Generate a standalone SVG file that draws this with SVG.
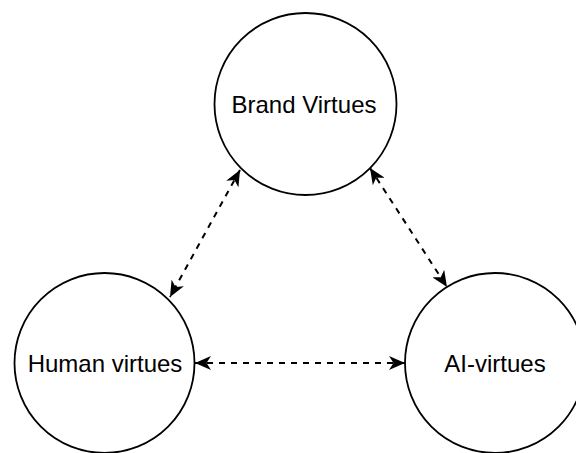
<svg xmlns="http://www.w3.org/2000/svg" width="576" height="453" viewBox="0 0 576 453">
<style>
.node circle{fill:#fff;stroke:#000;stroke-width:1.8}
.node text{font-family:"Liberation Sans",Arial,sans-serif;font-size:24px;fill:#000;text-anchor:middle;dominant-baseline:central}
.conn line{stroke:#000;stroke-width:2;stroke-dasharray:6 6;fill:none}
</style>
<defs>
<marker id="ah" viewBox="0 0 16 14" refX="16" refY="7" markerWidth="16" markerHeight="14" markerUnits="userSpaceOnUse" orient="auto-start-reverse">
<path d="M0,0 L16,7 L0,14 L4.5,7 Z" fill="#000"/>
</marker>
</defs>
<rect width="576" height="453" fill="#fff"/>
<g id="brand" class="node"><circle cx="305.5" cy="104" r="91"/><text x="304" y="104">Brand Virtues</text></g>
<g id="human" class="node"><circle cx="104.5" cy="363" r="90"/><text x="105" y="363">Human virtues</text></g>
<g id="ai" class="node"><circle cx="495" cy="363" r="90"/><text x="495" y="363">AI-virtues</text></g>
<g id="connectors" class="conn">
<line x1="240" y1="170" x2="170" y2="297" marker-start="url(#ah)" marker-end="url(#ah)"/>
<line x1="370" y1="168" x2="447" y2="287" marker-start="url(#ah)" marker-end="url(#ah)"/>
<line x1="195" y1="363" x2="405" y2="363" marker-start="url(#ah)" marker-end="url(#ah)"/>
</g>
</svg>
